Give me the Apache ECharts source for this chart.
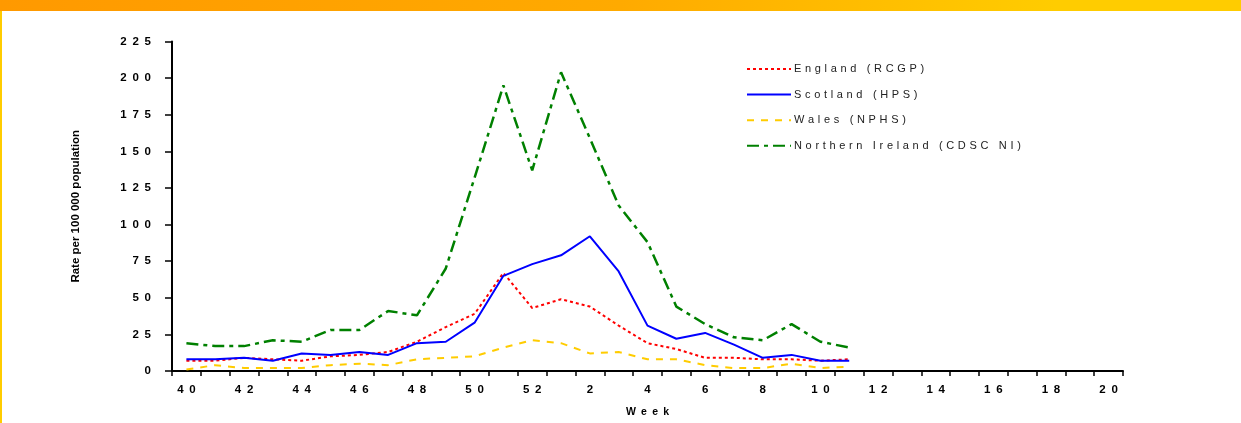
<!DOCTYPE html>
<html><head><meta charset="utf-8">
<script src="https://cdn.jsdelivr.net/npm/echarts@6/dist/echarts.min.js"></script>
<style>html,body{margin:0;padding:0;background:#fff;overflow:hidden}#c{width:1241px;height:423px}</style>
</head><body><div id="c"></div>
<script>
// Week categories (season weeks 40-52, then 1-20)
const weeks = ['40','41','42','43','44','45','46','47','48','49','50','51','52',
  '1','2','3','4','5','6','7','8','9','10','11','12','13','14','15','16','17','18','19','20'];
const seriesNames = ['England (RCGP)', 'Scotland (HPS)', 'Wales (NPHS)', 'Northern Ireland (CDSC NI)'];
const england  = [7, 7, 9, 8, 7, 10, 11, 13, 20, 30, 39, 67, 43, 49, 44, 31, 19, 15, 9, 9, 8, 8, 7, 8];
const scotland = [8, 8, 9, 7, 12, 11, 13, 11, 19, 20, 33, 65, 73, 79, 92, 68, 31, 22, 26, 18, 9, 11, 7, 7];
const wales    = [1, 4, 2, 2, 2, 4, 5, 4, 8, 9, 10, 16, 21, 19, 12, 13, 8, 8, 4, 2, 2, 5, 2, 3];
const nIreland = [19, 17, 17, 21, 20, 28, 28, 41, 38, 70, 132, 195, 137, 204, 159, 113, 88, 44, 32, 23, 21, 32, 20, 16];
const yTicks = { min: 0, max: 225, interval: 25 };

const FONT = 'Liberation Sans, Arial, sans-serif';
const spaced = (s, sp) => String(s).split('').join(sp);

const chart = echarts.init(document.getElementById('c'), null, { renderer: 'canvas' });
chart.setOption({
  animation: false,
  backgroundColor: '#ffffff',
  graphic: [
    { type: 'rect', shape: { x: 0, y: 0, width: 1241, height: 11 }, silent: true,
      style: { fill: new echarts.graphic.LinearGradient(0, 0, 1, 0, [
        { offset: 0, color: '#FF9900' }, { offset: 0.5, color: '#FFAA00' }, { offset: 0.85, color: '#FFCC00' }, { offset: 1, color: '#FFCC00' }]) } },
    { type: 'rect', shape: { x: 0, y: 11, width: 2, height: 412 }, silent: true, style: { fill: '#FFCC00' } }
  ],
  grid: { left: 172, right: 118, top: 41.5, bottom: 49.5, containLabel: false },
  legend: {
    orient: 'vertical', left: 746, top: 63.5, padding: 0,
    itemWidth: 44, itemHeight: 12, itemGap: 14.6,
    itemStyle: { opacity: 0 },
    textStyle: { fontFamily: FONT, fontSize: 11, color: '#222', padding: [0, 0, 0, -2] },
    formatter: n => spaced(n, '\u2004'),
    data: seriesNames
  },
  xAxis: {
    type: 'category', data: weeks, boundaryGap: true,
    name: spaced('Week', '\u2002'), nameLocation: 'middle', nameGap: 36,
    nameTextStyle: { fontFamily: FONT, fontSize: 10.5, fontWeight: 'bold', color: '#000' },
    axisLine: { lineStyle: { color: '#000', width: 2 } },
    axisTick: { show: true, interval: 0, length: 5, alignWithLabel: false, lineStyle: { color: '#000', width: 1.5 } },
    axisLabel: { interval: 1, margin: 13, fontFamily: FONT, fontSize: 11.5, fontWeight: 'bold', color: '#000',
      formatter: v => spaced(v, '\u2002') },
    splitLine: { show: false }
  },
  yAxis: {
    type: 'value', min: yTicks.min, max: yTicks.max, interval: yTicks.interval,
    name: 'Rate per 100 000 population', nameLocation: 'middle', nameGap: 90,
    nameTextStyle: { fontFamily: FONT, fontSize: 11.5, fontWeight: 'bold', color: '#000' },
    axisLine: { show: true, lineStyle: { color: '#000', width: 2 } },
    axisTick: { show: true, length: 7, lineStyle: { color: '#000', width: 1.5 } },
    axisLabel: { margin: 21, fontFamily: FONT, fontSize: 11.5, fontWeight: 'bold', color: '#000',
      formatter: v => spaced(v, '\u2002') },
    splitLine: { show: false }
  },
  series: [
    { name: seriesNames[0], type: 'line', data: england, symbol: 'none', silent: true,
      itemStyle: { color: '#FF0000' }, lineStyle: { color: '#FF0000', width: 2, type: [3, 3] } },
    { name: seriesNames[1], type: 'line', data: scotland, symbol: 'none', silent: true,
      itemStyle: { color: '#0000FF' }, lineStyle: { color: '#0000FF', width: 2, type: 'solid' } },
    { name: seriesNames[2], type: 'line', data: wales, symbol: 'none', silent: true,
      itemStyle: { color: '#FFCC00' }, lineStyle: { color: '#FFCC00', width: 2, type: [7, 7] } },
    { name: seriesNames[3], type: 'line', data: nIreland, symbol: 'none', silent: true,
      itemStyle: { color: '#008000' }, lineStyle: { color: '#008000', width: 2.5, type: [12, 5, 4, 5] } }
  ]
});
</script>
</body></html>
